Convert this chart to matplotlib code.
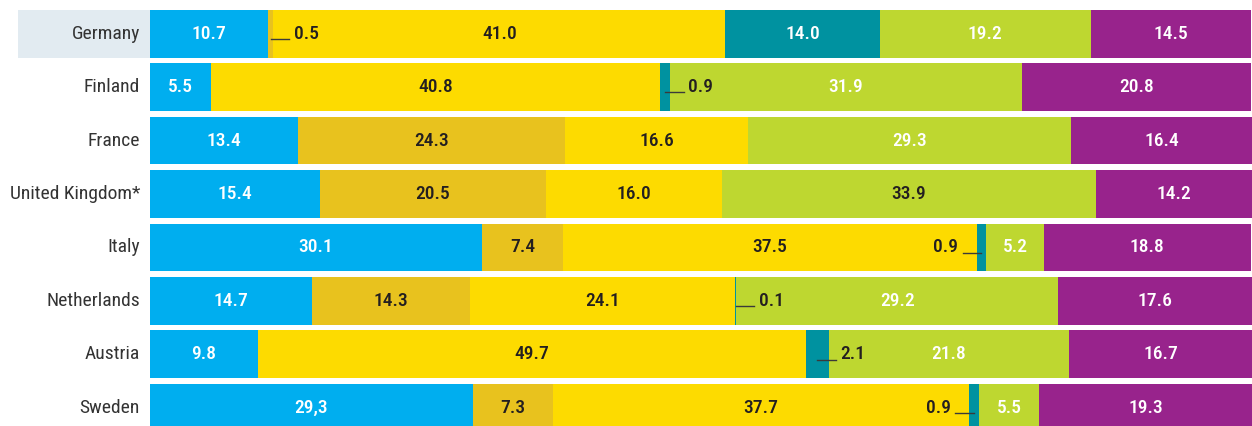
import matplotlib
matplotlib.use("Agg")
import matplotlib.pyplot as plt
import matplotlib.transforms as mtransforms
from matplotlib.patches import Rectangle

# Shares per country, segments from left to right
countries = ["Germany", "Finland", "France", "United Kingdom*", "Italy",
             "Netherlands", "Austria", "Sweden"]
seg_blue = [10.7, 5.5, 13.4, 15.4, 30.1, 14.7, 9.8, 29.3]
seg_gold = [0.5, 0.0, 24.3, 20.5, 7.4, 14.3, 0.0, 7.3]
seg_yellow = [41.0, 40.8, 16.6, 16.0, 37.5, 24.1, 49.7, 37.7]
seg_teal = [14.0, 0.9, 0.0, 0.0, 0.9, 0.1, 2.1, 0.9]
seg_lime = [19.2, 31.9, 29.3, 33.9, 5.2, 29.2, 21.8, 5.5]
seg_purple = [14.5, 20.8, 16.4, 14.2, 18.8, 17.6, 16.7, 19.3]

segments = [seg_blue, seg_gold, seg_yellow, seg_teal, seg_lime, seg_purple]
colors = ["#00aeef", "#e8c21e", "#fddb00", "#0092a0", "#bed730", "#98238c"]
dark = "#231f20"
text_colors = ["white", dark, dark, "white", "white", "white"]

# small segments labelled outside with a short leader line
callouts = {(0, 1): "right", (1, 3): "right", (4, 3): "left",
            (5, 3): "right", (6, 3): "right", (7, 3): "left"}

font = ["Roboto Condensed", "DejaVu Sans"]
vfs = 14
vfw = 500

fig = plt.figure(figsize=(12.52, 4.26), dpi=100)
ax = fig.add_axes([150 / 1252, 0, 1102 / 1252, 1])

bar_h = 0.89
for i, name in enumerate(countries):
    left = 0.0
    for s, seg in enumerate(segments):
        v = seg[i]
        if v <= 0:
            continue
        ax.barh(i, v, left=left, height=bar_h, color=colors[s], linewidth=0)
        cx = left + v / 2
        label = f"{v:.1f}"
        if name == "Sweden" and s == 0:
            label = "29,3"
        side = callouts.get((i, s))
        if side == "right":
            ax.plot([cx, cx + 1.7], [i + 0.1, i + 0.1], color="#3a3a3a", lw=1)
            ax.text(cx + 2.1, i, label, ha="left", va="center", color=dark,
                    fontsize=vfs, fontweight=vfw, family=font)
        elif side == "left":
            ax.plot([cx - 1.7, cx], [i + 0.1, i + 0.1], color="#3a3a3a", lw=1)
            ax.text(cx - 2.1, i, label, ha="right", va="center", color=dark,
                    fontsize=vfs, fontweight=vfw, family=font)
        else:
            tc = text_colors[s]
            if name == "United Kingdom*" and s == 4:
                tc = dark
            ax.text(cx, i, label, ha="center", va="center", color=tc,
                    fontsize=vfs, fontweight=vfw, family=font)
        left += v

# country names, Germany highlighted
trans = mtransforms.blended_transform_factory(fig.transFigure, ax.transData)
ax.add_patch(Rectangle((18 / 1252, -bar_h / 2), 132 / 1252, bar_h,
                       transform=trans, color="#e2ebf1", clip_on=False,
                       zorder=0, linewidth=0))
for i, name in enumerate(countries):
    ax.text(140 / 1252, i, name, transform=trans, ha="right", va="center",
            color="#333333", fontsize=14, family=font)

ax.set_xlim(0, 100)
ax.set_ylim(7.345, -0.632)
ax.axis("off")

fig.savefig("out.png", dpi=100)
